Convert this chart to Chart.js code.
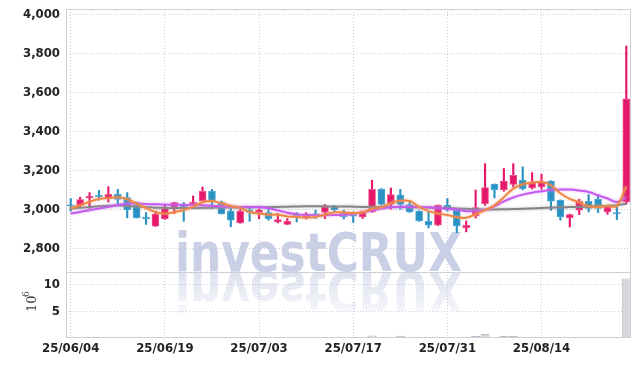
<!DOCTYPE html>
<html><head><meta charset="utf-8">
<script src="https://cdn.jsdelivr.net/npm/chart.js@4.4.1/dist/chart.umd.min.js"></script>
<style>
html,body{margin:0;padding:0;background:#fff;}
#wrap{position:relative;width:639px;height:366px;overflow:hidden;background:#fff;}
canvas{position:absolute;left:0;}
</style></head><body>
<div id="wrap">
<canvas id="wm" width="639" height="366" style="top:0"></canvas>
<canvas id="cp" width="639" height="273" style="top:0"></canvas>
<canvas id="cv" width="639" height="100" style="top:266px"></canvas>
</div>
<script>
const dates = ['25/06/04','25/06/05','25/06/09','25/06/10','25/06/11','25/06/12','25/06/13','25/06/16','25/06/17','25/06/18',
'25/06/19','25/06/20','25/06/23','25/06/24','25/06/25','25/06/26','25/06/27','25/06/30','25/07/01','25/07/02',
'25/07/03','25/07/04','25/07/07','25/07/08','25/07/09','25/07/10','25/07/11','25/07/14','25/07/15','25/07/16',
'25/07/17','25/07/18','25/07/21','25/07/22','25/07/23','25/07/24','25/07/25','25/07/28','25/07/29','25/07/30',
'25/07/31','25/08/01','25/08/04','25/08/05','25/08/06','25/08/07','25/08/08','25/08/11','25/08/12','25/08/13',
'25/08/14','25/08/18','25/08/19','25/08/20','25/08/21','25/08/22','25/08/25','25/08/26','25/08/27','25/08/28'];
const dateTicks = ['25/06/04','25/06/19','25/07/03','25/07/17','25/07/31','25/08/14'];

const opens  = [3022,3020,3058,3072,3056,3076,3060,3024,2960,2913, 2952,3009,3020,3026,3043,3092,3035,2990,2930,2995,
                2983,2983,2935,2922,2973,2958,2976,2983,3012,2986, 2973,2960,2986,3102,3024,3072,3024,2990,2938,2918,
                3020,2995,2904,2966,3029,3128,3099,3127,3149,3109, 3114,3144,3046,2956,2995,3041,3051,2986,2983,3037];
const highs  = [3055,3062,3085,3097,3116,3102,3085,3037,2983,2990, 3020,3036,3034,3068,3114,3102,3042,3004,2998,3007,
                3003,3012,2978,2952,2983,2982,2995,3024,3020,2995, 2986,2990,3149,3106,3109,3102,3041,2992,2990,3022,
                3055,2997,2940,3099,3234,3130,3209,3234,3217,3188, 3180,3146,3048,2975,3051,3075,3075,3020,3020,3837];
const lows   = [2990,3012,3004,3046,3037,3020,2956,2955,2922,2912, 2948,2978,2938,3020,3040,3004,2975,2910,2928,2938,
                2952,2944,2930,2921,2935,2950,2952,2952,2986,2950, 2932,2952,2984,3020,3000,3000,2984,2938,2904,2916,
                2990,2880,2884,2955,3020,3058,3092,3114,3099,3104, 3102,2995,2944,2909,2973,2986,2983,2974,2947,3026];
const closes = [3018,3050,3066,3064,3077,3050,2998,2956,2950,2975, 3003,3034,3012,3037,3092,3037,2977,2944,2990,2983,
                2997,2952,2947,2938,2965,2976,2970,3012,2996,2962, 2965,2986,3102,3024,3075,3024,2986,2940,2918,3020,
                2998,2914,2918,3009,3111,3100,3144,3174,3106,3140, 3140,3041,2960,2973,3041,3004,3004,3017,2977,3566];

const ma5  = [3005,3020,3038,3052,3057,3061,3051,3030,3006,2986, 2977,2985,2996,3012,3036,3042,3031,3017,3006,2986,
              2978,2972,2972,2963,2960,2957,2960,2972,2984,2983, 2981,2984,3002,3010,3032,3043,3042,3012,2990,2978,
              2970,2960,2956,2974,2995,3020,3062,3106,3128,3136, 3141,3123,3082,3053,3036,3015,3012,3016,3018,3118];
const ma20 = [2978,2986,2995,3004,3012,3022,3028,3030,3027,3025, 3024,3023,3022,3021,3020,3018,3015,3013,3012,3012,
              3011,3005,2994,2982,2974,2970,2969,2969,2970,2972, 2976,2984,2993,3003,3010,3012,3012,3012,3010,3006,
              3003,2998,2990,2992,2996,3015,3040,3060,3075,3085, 3092,3098,3101,3101,3096,3088,3072,3055,3037,3062];
const ma60 = [3004,3007,3011,3015,3018,3019,3017,3014,3011,3008, 3007,3006,3006,3006,3007,3008,3009,3009,3009,3009,
              3010,3011,3012,3013,3014,3015,3015,3015,3014,3014, 3013,3012,3012,3012,3012,3011,3010,3009,3008,3007,
              3006,3004,3002,3000,2999,2999,3000,3001,3002,3004, 3006,3008,3010,3011,3012,3014,3016,3018,3021,3028];
const volumes = [0.12,0.10,0.14,0.09,0.13,0.11,0.15,0.12,0.10,0.14, 0.11,0.09,0.12,0.10,0.16,0.13,0.11,0.10,0.09,0.12,
                 0.10,0.11,0.09,0.10,0.12,0.10,0.09,0.13,0.11,0.10, 0.12,0.14,0.55,0.20,0.18,0.50,0.15,0.12,0.14,0.16,
                 0.13,0.18,0.16,0.45,0.80,0.22,0.45,0.45,0.20,0.18, 0.16,0.20,0.15,0.12,0.14,0.13,0.12,0.11,0.10,11.2];
const priceTicks = [2800,3000,3200,3400,3600,3800,4000];
const volumeTicks = [5,10];

const UP = '#e4196c', DOWN = '#2a91c3';
const isUp = i => closes[i] >= opens[i];
const FONT = "'DejaVu Sans Condensed','Liberation Sans Narrow',sans-serif";
const GRID = '#c8ccde';

// watermark with reflection
(function(){
  const c = document.getElementById('wm').getContext('2d');
  const txt = 'investCRUX';
  c.font = "bold 54px 'DejaVu Sans',sans-serif";
  const w = c.measureText(txt).width;
  const sx = 287 / w;
  c.save(); c.translate(175, 271); c.scale(sx, 1);
  c.fillStyle = 'rgb(201,207,229)'; c.fillText(txt, 0, 0); c.restore();
  c.save(); c.translate(175, 272); c.scale(sx, -1);
  const g = c.createLinearGradient(0, 0, 0, -46);
  g.addColorStop(0, 'rgba(205,210,230,0.65)');
  g.addColorStop(1, 'rgba(205,210,230,0.12)');
  c.fillStyle = g; c.fillText(txt, 0, 0); c.restore();
})();

const frame = { id:'frame', afterDraw(chart){
  const {ctx, chartArea:a} = chart;
  ctx.save(); ctx.strokeStyle = '#cdced6'; ctx.lineWidth = 1;
  ctx.strokeRect(Math.round(a.left)+0.5, Math.round(a.top)+0.5, Math.round(a.right-a.left)-1, Math.round(a.bottom-a.top));
  ctx.restore();
}};
const glow = { id:'glow',
  beforeDatasetDraw(chart, args){ const ds = chart.data.datasets[args.index];
    if (ds.glowColor){ chart.ctx.save(); chart.ctx.shadowColor = ds.glowColor; chart.ctx.shadowBlur = 3; } },
  afterDatasetDraw(chart, args){ const ds = chart.data.datasets[args.index];
    if (ds.glowColor){ chart.ctx.restore(); } }
};
const noPad = s => { s.paddingTop = 0; s.paddingBottom = 0; s.paddingLeft = 0; s.paddingRight = 0; };
const keepDateTicks = s => { s.ticks = s.ticks.filter(t => dateTicks.includes(dates[t.value])); };
const tickFont = {family: FONT, size: 13, weight: 'bold'};

new Chart(document.getElementById('cp'), {
  type: 'bar',
  data: { labels: dates, datasets: [
    { label:'wick', data: dates.map((d,i)=>[lows[i], highs[i]]), backgroundColor: c=>isUp(c.dataIndex)?UP:DOWN,
      barThickness: 1.5, grouped: false, order: 4 },
    { label:'body', data: dates.map((d,i)=>[opens[i], closes[i]]), backgroundColor: c=>isUp(c.dataIndex)?UP:DOWN,
      borderColor: c=>isUp(c.dataIndex)?'#f0508e':'#4aa6d4', borderWidth: 1, borderSkipped: false,
      barThickness: 7, grouped: false, order: 3 },
    { type:'line', label:'MA60', data: ma60, borderColor:'#858585', borderWidth: 2, pointRadius: 0, tension: 0.4, order: 2, glowColor:'rgba(150,150,150,0.6)' },
    { type:'line', label:'MA20', data: ma20, borderColor:'#c659ef', borderWidth: 2, pointRadius: 0, tension: 0.4, order: 1, glowColor:'rgba(210,140,245,0.7)' },
    { type:'line', label:'MA5',  data: ma5,  borderColor:'#ee8646', borderWidth: 2, pointRadius: 0, tension: 0.4, order: 0, glowColor:'rgba(245,170,120,0.7)' }
  ]},
  options: {
    responsive: false, animation: false, devicePixelRatio: 1,
    layout: { padding: { left: 0, right: 8, top: 9, bottom: 1 } },
    plugins: { legend: { display: false }, tooltip: { enabled: false } },
    scales: {
      x: { offset: true, grid: { offset: false, drawTicks: false, color: GRID }, border: { display: false, dash: [1,2] },
           ticks: { display: false, autoSkip: false }, afterBuildTicks: keepDateTicks,
           afterFit: s => { s.height = 0; noPad(s); } },
      y: { min: 2678, max: 4027, afterBuildTicks: s => { s.ticks = priceTicks.map(v => ({value: v})); },
           grid: { drawTicks: false, color: GRID }, border: { display: false, dash: [1,2] },
           ticks: { padding: 6, color: '#222', font: tickFont }, afterFit: s => { s.width = 66; noPad(s); } }
    }
  },
  plugins: [frame, glow]
});

const expLabel = { id:'expLabel', afterDraw(chart){
  const ctx = chart.ctx;
  ctx.save(); ctx.translate(32, 37); ctx.rotate(-Math.PI/2);
  ctx.fillStyle = '#444'; ctx.textBaseline = 'middle'; ctx.textAlign = 'left';
  ctx.font = "13px 'DejaVu Serif',serif";
  ctx.fillText('10', -9, 1);
  ctx.font = "9px 'DejaVu Serif',serif";
  ctx.fillText('6', 6, -5);
  ctx.restore();
}};

new Chart(document.getElementById('cv'), {
  type: 'bar',
  data: { labels: dates, datasets: [
    { label:'volume', data: volumes, backgroundColor: '#d7d7df', borderColor: '#bcbcc6', borderWidth: 1,
      barPercentage: 0.96, categoryPercentage: 1 }
  ]},
  options: {
    responsive: false, animation: false, devicePixelRatio: 1,
    layout: { padding: { left: 0, right: 8, top: 6, bottom: 0 } },
    plugins: { legend: { display: false }, tooltip: { enabled: false } },
    scales: {
      x: { offset: true, grid: { offset: false, drawTicks: false, color: GRID }, border: { display: false, dash: [1,2] },
           ticks: { autoSkip: false, maxRotation: 0, padding: 4, color: '#222', font: tickFont },
           afterBuildTicks: keepDateTicks, afterFit: s => { s.height = 29; noPad(s); } },
      y: { min: 0.25, max: 12.4, afterBuildTicks: s => { s.ticks = volumeTicks.map(v => ({value: v})); },
           grid: { drawTicks: false, color: GRID }, border: { display: false, dash: [1,2] },
           ticks: { padding: 6, color: '#222', font: tickFont }, afterFit: s => { s.width = 66; noPad(s); } }
    }
  },
  plugins: [frame, expLabel]
});
</script>
</body></html>
